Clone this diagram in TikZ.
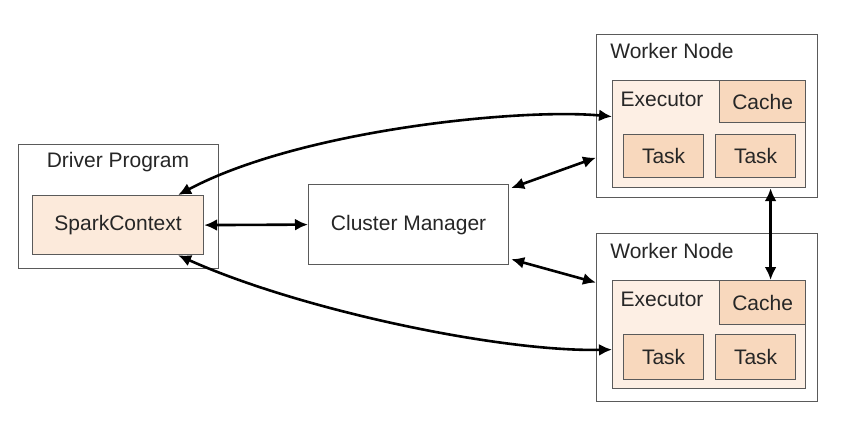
\documentclass[tikz,border=0pt]{standalone}
\usepackage{fontspec}
\setmainfont{Liberation Sans}
\usetikzlibrary{arrows.meta,calc}
\definecolor{sparkfill}{HTML}{FCEADB}
\definecolor{execfill}{HTML}{FDEFE4}
\definecolor{taskfill}{HTML}{F8D8BD}
\definecolor{boxline}{HTML}{5A5A5A}
\begin{document}
\begin{tikzpicture}[x=1pt,y=-1pt,
  box/.style={draw=boxline, line width=1.2pt, anchor=north west, inner sep=0pt},
  lbl/.style={font=\fontsize{21}{25}\selectfont, text=black!85, inner sep=0pt},
  conn/.style={line width=2.6pt, {Latex[length=13pt,width=12pt]}-{Latex[length=13pt,width=12pt]}}
]
\useasboundingbox (0,0) rectangle (852,436);
\fill[white] (0,0) rectangle (852,436);

% Driver
\node[box, fill=white, minimum width=200pt, minimum height=124pt] (driver) at (18,144) {};
\node[lbl] (drivert) at (118,162) {Driver Program};
\node[box, fill=sparkfill, minimum width=171pt, minimum height=59pt] (spark) at (32,195) {};
\node[lbl] (sparkt) at (spark.center) {SparkContext};

% Cluster manager
\node[box, fill=white, minimum width=200pt, minimum height=80pt] (cm) at (308,184) {};
\node[lbl] (cmt) at (cm.center) {Cluster Manager};

% Worker 1
\node[box, fill=white, minimum width=221pt, minimum height=163pt] (w1) at (596,34) {};
\node[lbl] (w1t) at (672,51) {Worker Node};
\node[box, fill=execfill, minimum width=193pt, minimum height=107pt] (exec1) at (612,80) {};
\node[lbl] (exec1t) at (662,99) {Executor};
\node[box, fill=taskfill, minimum width=86pt, minimum height=42pt] (cache1) at (719,80) {};
\node[lbl] (cache1t) at (cache1.center) {Cache};
\node[box, fill=taskfill, minimum width=80pt, minimum height=43pt] (t11) at (623,134) {};
\node[lbl] (t11t) at (t11.center) {Task};
\node[box, fill=taskfill, minimum width=80pt, minimum height=43pt] (t12) at (715,134) {};
\node[lbl] (t12t) at (t12.center) {Task};

% Worker 2
\node[box, fill=white, minimum width=221pt, minimum height=168pt] (w2) at (596,233) {};
\node[lbl] (w2t) at (672,251) {Worker Node};
\node[box, fill=execfill, minimum width=193pt, minimum height=108pt] (exec2) at (612,280) {};
\node[lbl] (exec2t) at (662,299) {Executor};
\node[box, fill=taskfill, minimum width=86pt, minimum height=44pt] (cache2) at (719,280) {};
\node[lbl] (cache2t) at (cache2.center) {Cache};
\node[box, fill=taskfill, minimum width=80pt, minimum height=45pt] (t21) at (623,334) {};
\node[lbl] (t21t) at (t21.center) {Task};
\node[box, fill=taskfill, minimum width=80pt, minimum height=45pt] (t22) at (715,334) {};
\node[lbl] (t22t) at (t22.center) {Task};

% Connectors
\draw[conn] (spark.east) -- (cm.west);
\draw[conn] ([xshift=2pt,yshift=-4pt]cm.north east) -- ([yshift=-41.5pt]w1.west);
\draw[conn] ([xshift=2pt,yshift=6pt]cm.south east) -- ([yshift=35pt]w2.west);
\draw[conn] ([xshift=60pt]spark.north) .. controls (300,130) and (520,108) .. ([yshift=17.5pt]exec1.west);
\draw[conn] ([xshift=60pt]spark.south) .. controls (300,310) and (500,352) .. ([yshift=-15pt]exec2.west);
\draw[conn] ([xshift=8pt]cache1.south |- exec1.south) -- ([xshift=8pt]cache2.north);
\end{tikzpicture}
\end{document}
